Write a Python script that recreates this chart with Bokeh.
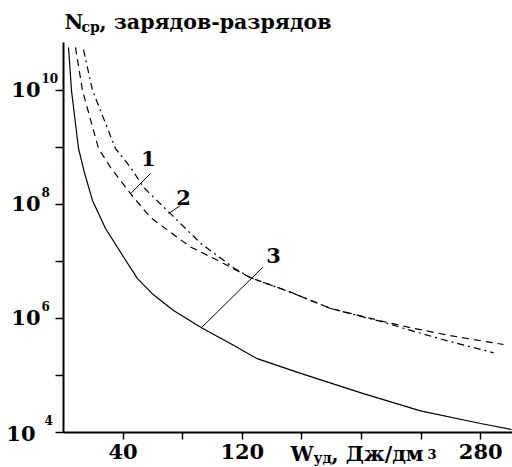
from bokeh.plotting import figure
from bokeh.models import Range1d, FixedTicker, Label, ColumnDataSource
from bokeh.embed import file_html
from bokeh.resources import INLINE

# ---------------- data ----------------
# curve 1 (dashed)
w1 = [8.05, 12.75, 23.5, 31.5, 45.0, 58.4, 85.2, 103.4, 125.5, 152.3, 179.2, 212.8, 232.9, 259.7, 295.3]
n1 = [5.7e10, 1.0e10, 9.6e8, 4.5e8, 1.55e8, 5.9e7, 1.8e7, 1.05e7, 5.2e6, 2.9e6, 1.5e6, 9.1e5, 6.9e5, 5.0e5, 3.5e5]
# curve 2 (dash-dot)
w2 = [13.4, 19.5, 34.9, 45.0, 53.7, 71.8, 91.9, 114.1, 125.5, 152.3, 179.2, 212.8, 239.6, 261.7, 288.6]
n2 = [5.2e10, 1.0e10, 9.6e8, 4.5e8, 2.0e8, 6.9e7, 2.1e7, 7.8e6, 5.2e6, 2.9e6, 1.5e6, 8.9e5, 5.5e5, 3.8e5, 2.5e5]
# curve 3 (solid)
w3 = [3.36, 5.37, 10.07, 14.09, 19.46, 28.19, 40.94, 49.66, 60.4, 73.83, 92.62, 114.1, 129.5, 159.7, 201.3, 239.6, 279.9, 300.7]
n3 = [5.7e10, 1.0e10, 9.6e8, 3.6e8, 1.17e8, 3.8e7, 1.13e7, 5.0e6, 2.6e6, 1.38e6, 6.9e5, 3.4e5, 2.0e5, 1.08e5, 4.8e4, 2.4e4, 1.44e4, 1.13e4]

# curve-number callouts: leader line start/end and text position
callout_names = ["1", "2", "3"]
callout_x0 = [45.0, 70.5, 92.6]
callout_y0 = [1.55e8, 6.95e7, 6.93e5]
callout_x1 = [58.4, 78.5, 133.6]
callout_y1 = [3.5e8, 9.6e7, 7.85e6]
callout_tx = [57.0, 80.5, 140.9]
callout_ty = [6.4e8, 1.33e8, 1.27e7]

# ticks
x_ticks = [40, 80, 120, 160, 200, 240, 280]
x_label_values = [40, 120, 280]
x_label_texts = ["40", "120", "280"]
y_ticks = [1e4, 1e5, 1e6, 1e7, 1e8, 1e9, 1e10]
y_label_values = [1e4, 1e6, 1e8, 1e10]
y_label_exps = ["4", "6", "8", "10"]

# ---------------- layout ----------------
W, H = 512, 467
AX_X, AX_Y = 63, 432          # pixel position of the axes corner
PX_PER_X = 1.49               # pixels per x unit
PX_PER_DEC = 57.0             # pixels per decade
XMIN, XMAX_AXIS = 0, (W - AX_X) / PX_PER_X
YMIN, YMAX_AXIS = 1e4, 10 ** 10.842

x_lo = -AX_X / PX_PER_X
x_hi = (W - AX_X) / PX_PER_X
y_lo = 10 ** (4 - (H - AX_Y) / PX_PER_DEC)
y_hi = 10 ** (4 + AX_Y / PX_PER_DEC)

FONT = "DejaVu Serif"

p = figure(width=W, height=H, output_backend="svg", toolbar_location=None,
           y_axis_type="log", x_axis_location="above", y_axis_location="right",
           x_range=Range1d(x_lo, x_hi), y_range=Range1d(y_lo, y_hi),
           min_border_left=0, min_border_right=0, min_border_top=0, min_border_bottom=0)
p.outline_line_color = None
p.grid.visible = False
p.background_fill_color = "white"
p.border_fill_color = "white"

# axes placed at x=0 / y=1e4 inside the frame; ticks point left / down
xa = p.xaxis[0]
xa.fixed_location = YMIN
xa.bounds = (XMIN, XMAX_AXIS)
xa.ticker = FixedTicker(ticks=x_ticks)
xa.axis_line_width = 2
xa.major_tick_line_width = 1.5
xa.major_tick_in = 7
xa.major_tick_out = 0
xa.minor_tick_line_color = None
xa.major_label_overrides = {t: "" for t in x_ticks}
xa.major_label_text_font_size = "1px"
xa.major_label_standoff = 0

ya = p.yaxis[0]
ya.fixed_location = XMIN
ya.bounds = (YMIN, YMAX_AXIS)
ya.ticker = FixedTicker(ticks=y_ticks)
ya.axis_line_width = 2
ya.major_tick_line_width = 1.5
ya.major_tick_in = 8
ya.major_tick_out = 0
ya.minor_tick_line_color = None
ya.major_label_overrides = {t: "" for t in y_ticks}
ya.major_label_text_font_size = "1px"
ya.major_label_standoff = 0

# curves
p.line(w1, n1, line_color="black", line_width=1.2, line_dash="7 5")
p.line(w2, n2, line_color="black", line_width=1.2, line_dash="7 4 2 4")
p.line(w3, n3, line_color="black", line_width=1.2)


def lab(**kw):
    kw.setdefault("text_font", FONT)
    kw.setdefault("text_font_style", "bold")
    kw.setdefault("text_color", "black")
    kw.setdefault("text_baseline", "middle")
    p.add_layout(Label(**kw))


# callouts
src = ColumnDataSource(dict(x0=callout_x0, y0=callout_y0, x1=callout_x1, y1=callout_y1))
p.segment("x0", "y0", "x1", "y1", source=src, line_color="black", line_width=1)
for name, tx, ty in zip(callout_names, callout_tx, callout_ty):
    lab(x=tx, y=ty, text=name, text_font_size="21px", text_align="center")

# x tick labels
for v, t in zip(x_label_values, x_label_texts):
    lab(x=v, y=YMIN, y_offset=-19, text=t, text_font_size="21px", text_align="center")

# y tick labels 10^n
for v, e in zip(y_label_values, y_label_exps):
    first = v == YMIN
    lab(x=XMIN, y=v, x_offset=-28 if first else -23, y_offset=-1 if first else 1, text="10",
        text_font_size="21px", text_align="right")
    lab(x=XMIN, y=v, x_offset=-19 if first else -22, y_offset=13, text=e,
        text_font_size="12px", text_align="left")

# y axis title: N_ср, зарядов-разрядов
lab(x=XMIN, y=YMAX_AXIS, x_offset=1, y_offset=21, text="N", text_font_size="20.5px")
lab(x=XMIN, y=YMAX_AXIS, x_offset=18, y_offset=16, text="ср", text_font_size="14px")
lab(x=XMIN, y=YMAX_AXIS, x_offset=36, y_offset=21, text=", зарядов-разрядов", text_font_size="20.5px")

# x axis title: W_уд, Дж/дм³ at the 200 tick
lab(x=200, y=YMIN, x_offset=-71, y_offset=-21, text="W", text_font_size="20.5px")
lab(x=200, y=YMIN, x_offset=-48, y_offset=-25, text="уд", text_font_size="14px")
lab(x=200, y=YMIN, x_offset=-30, y_offset=-21, text=", Дж/дм", text_font_size="20.5px")
lab(x=200, y=YMIN, x_offset=66, y_offset=-21, text="3", text_font_size="13px")

open("out.html", "w").write(file_html(p, INLINE))
